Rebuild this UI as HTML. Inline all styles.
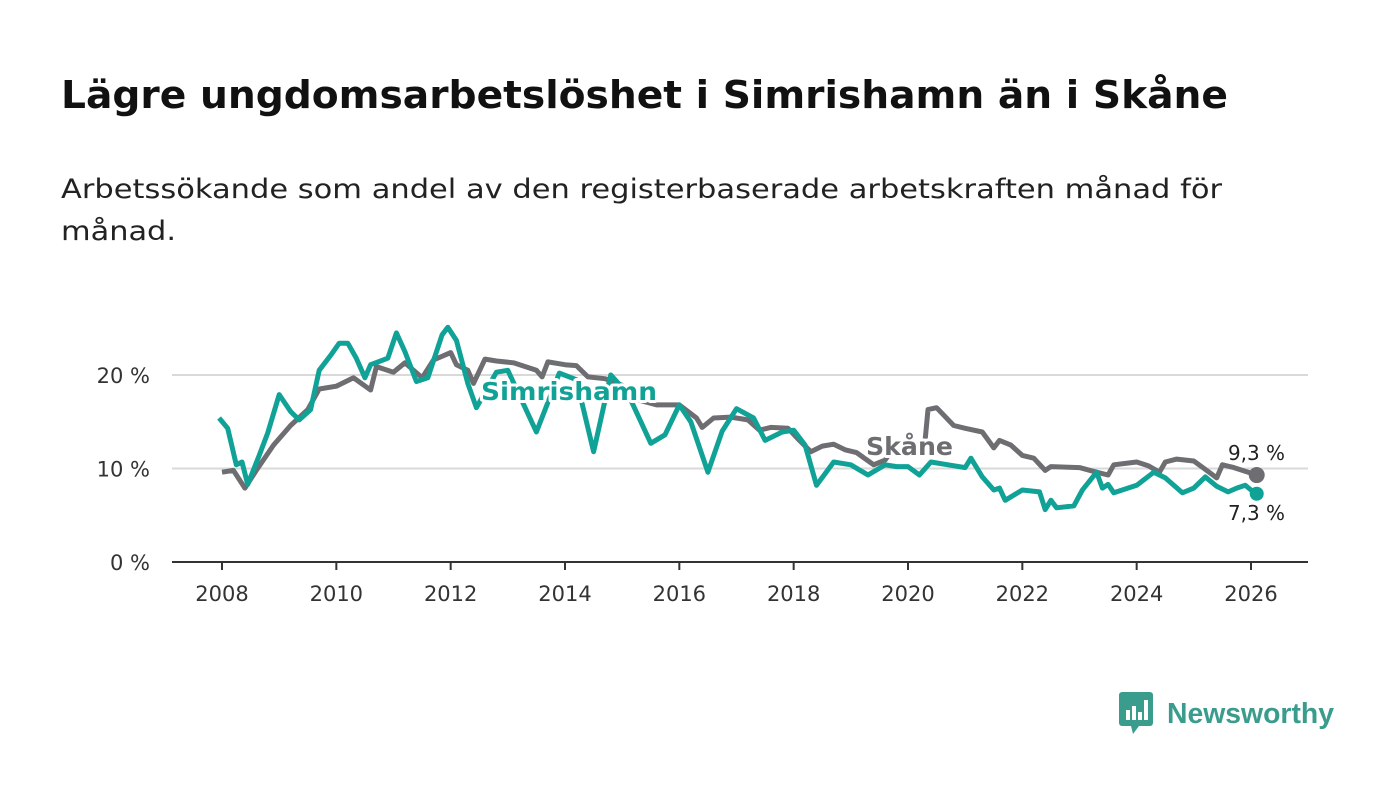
<!DOCTYPE html>
<html><head><meta charset="utf-8"><style>
body{margin:0;width:1400px;height:794px;background:#fff;font-family:"DejaVu Sans","Liberation Sans",sans-serif;overflow:hidden;position:relative}
svg{position:absolute;left:0;top:0}
</style></head><body>
<svg id="chart" width="1400" height="794">
<text x="61" y="108" font-size="38" font-weight="bold" fill="#111" textLength="1167" lengthAdjust="spacingAndGlyphs">Lägre ungdomsarbetslöshet i Simrishamn än i Skåne</text>
<text x="61" y="198" font-size="27" fill="#222" textLength="1161" lengthAdjust="spacingAndGlyphs">Arbetssökande som andel av den registerbaserade arbetskraften månad för</text>
<text x="61" y="240" font-size="27" fill="#222" textLength="115" lengthAdjust="spacingAndGlyphs">månad.</text>
</svg>
<div style="position:absolute;left:1119px;top:692px;display:flex;align-items:center">
<svg width="36" height="42" style="position:static"><rect x="0" y="0" width="34" height="34" rx="3" fill="#3a9c8c"/><path d="M12 34 L14 42 L20 34Z" fill="#3a9c8c"/><rect x="7" y="18" width="4" height="10" fill="#fff"/><rect x="13" y="14" width="4" height="14" fill="#fff"/><rect x="19" y="20" width="4" height="8" fill="#fff"/><rect x="25" y="8" width="4" height="20" fill="#fff"/></svg>
<svg width="175" height="40" style="position:static;margin-left:12px"><text x="0" y="30" font-size="29" font-weight="bold" fill="#3a9c8c" textLength="167" lengthAdjust="spacingAndGlyphs" font-family="Liberation Sans">Newsworthy</text></svg></div>
<script>
const xTicks=[2008,2010,2012,2014,2016,2018,2020,2022,2024,2026];
const yTicks=[0,10,20];
const skaneT=[2008,2008.2,2008.4,2008.6,2008.9,2009.2,2009.5,2009.7,2010,2010.3,2010.6,2010.7,2011,2011.2,2011.5,2011.7,2012,2012.1,2012.3,2012.4,2012.6,2012.8,2013.1,2013.5,2013.6,2013.7,2014,2014.2,2014.4,2014.7,2015,2015.3,2015.6,2016,2016.3,2016.4,2016.6,2016.9,2017.2,2017.4,2017.6,2017.9,2018.1,2018.3,2018.5,2018.7,2018.9,2019.1,2019.4,2019.6,2019.7,2020,2020.3,2020.35,2020.5,2020.8,2021,2021.3,2021.5,2021.6,2021.8,2022,2022.2,2022.4,2022.5,2023,2023.3,2023.5,2023.6,2024,2024.2,2024.4,2024.5,2024.7,2025,2025.2,2025.4,2025.5,2025.7,2026.1];
const skaneV=[9.6,9.8,7.9,9.8,12.5,14.6,16.3,18.5,18.8,19.7,18.4,20.9,20.3,21.3,19.7,21.6,22.4,21.1,20.5,19.1,21.7,21.5,21.3,20.5,19.8,21.4,21.1,21.0,19.8,19.6,18.9,17.3,16.8,16.8,15.4,14.4,15.4,15.5,15.2,14.1,14.4,14.3,13.0,11.8,12.4,12.6,12.0,11.7,10.4,10.9,11.8,12.0,13.0,16.3,16.5,14.6,14.3,13.9,12.2,13.0,12.5,11.4,11.1,9.8,10.2,10.1,9.6,9.3,10.4,10.7,10.3,9.6,10.7,11.0,10.8,9.9,9.0,10.4,10.1,9.3];
const simT=[2007.95,2008.1,2008.25,2008.35,2008.45,2008.65,2008.8,2009,2009.2,2009.35,2009.55,2009.7,2009.9,2010.05,2010.2,2010.35,2010.5,2010.6,2010.9,2011.05,2011.2,2011.4,2011.6,2011.85,2011.95,2012.1,2012.3,2012.45,2012.8,2013.0,2013.5,2013.9,2014.2,2014.5,2014.8,2015.1,2015.5,2015.75,2016.0,2016.2,2016.5,2016.75,2017.0,2017.3,2017.5,2017.8,2018.0,2018.2,2018.4,2018.7,2019.0,2019.3,2019.6,2019.8,2020.0,2020.2,2020.4,2020.7,2021.0,2021.1,2021.3,2021.5,2021.6,2021.7,2022.0,2022.3,2022.4,2022.5,2022.6,2022.9,2023.05,2023.3,2023.4,2023.5,2023.6,2024.0,2024.3,2024.5,2024.8,2025.0,2025.2,2025.4,2025.6,2025.75,2025.9,2026.0,2026.1];
const simV=[15.4,14.3,10.4,10.7,8.3,11.4,13.8,17.9,16.1,15.2,16.3,20.5,22.1,23.4,23.4,21.8,19.7,21.1,21.8,24.5,22.5,19.3,19.7,24.3,25.1,23.7,19.1,16.5,20.3,20.5,13.9,20.2,19.5,11.8,20.0,18.0,12.7,13.6,16.8,15.0,9.6,14.0,16.4,15.4,13.0,13.9,14.1,12.5,8.2,10.7,10.4,9.3,10.4,10.2,10.2,9.3,10.7,10.4,10.1,11.1,9.1,7.7,7.9,6.6,7.7,7.5,5.6,6.6,5.8,6.0,7.7,9.6,7.9,8.3,7.4,8.2,9.6,9.0,7.4,7.9,9.1,8.1,7.5,7.9,8.2,7.7,7.3];
const svg=document.getElementById('chart');const NS='http://www.w3.org/2000/svg';
const X=t=>222+(t-2008)*(1251-222)/18;
const Y=v=>562-v*9.35;
function mk(tag,attrs,parent){const e=document.createElementNS(NS,tag);for(const k in attrs)e.setAttribute(k,attrs[k]);(parent||svg).appendChild(e);return e;}
yTicks.forEach(v=>{
 if(v>0){const g=mk('line',{x1:172,x2:1308,y1:Y(v),y2:Y(v),stroke:'#d9d9d9','stroke-width':2});
 
 }
 const t=mk('text',{x:150,y:Y(v)+8,'text-anchor':'end','font-size':21,fill:'#333'});t.textContent=v+' %';
 
 
});
const ax=mk('line',{x1:172,x2:1308,y1:562,y2:562,stroke:'#333','stroke-width':2});


xTicks.forEach(y=>{
 const l=mk('line',{x1:X(y),x2:X(y),y1:562,y2:570,stroke:'#333','stroke-width':2});
 
 
 const t=mk('text',{x:X(y),y:601,'text-anchor':'middle','font-size':21,fill:'#333'});t.textContent=y;
 
 
});
function path(T,V){return T.map((t,i)=>(i?'L':'M')+X(t).toFixed(1)+' '+Y(V[i]).toFixed(1)).join(' ');}
const s1=mk('path',{d:path(skaneT,skaneV),fill:'none',stroke:'#6e6d72','stroke-width':5,'stroke-linejoin':'round'});


const s2=mk('path',{d:path(simT,simV),fill:'none',stroke:'#11a297','stroke-width':5,'stroke-linejoin':'round'});


const lastS=skaneT.length-1,lastM=simT.length-1;
const d1=mk('circle',{cx:X(skaneT[lastS]),cy:Y(skaneV[lastS]),r:8,fill:'#6e6d72'});


const d2=mk('circle',{cx:X(simT[lastM]),cy:Y(simV[lastM]),r:7,fill:'#11a297'});


function label(txt,x,y,col,size,w,name,len){
 const t=mk('text',{x:x,y:y,'font-size':size,'font-weight':w,fill:col,stroke:'#fff','stroke-width':6,'paint-order':'stroke','stroke-linejoin':'round',textLength:len,lengthAdjust:'spacingAndGlyphs'});t.textContent=txt;
 
 
}
label('Simrishamn',481,400,'#11a297',25,'bold','simrishamn-label',176);
label('Skåne',866,455,'#6e6d72',25,'bold','skane-label',87);
label(String(skaneV[lastS]).replace('.',',')+' %',1228,460,'#222',20,'normal','skane-end-value',57);
label(String(simV[lastM]).replace('.',',')+' %',1228,520,'#222',20,'normal','simrishamn-end-value',57);
</script>
</body></html>
